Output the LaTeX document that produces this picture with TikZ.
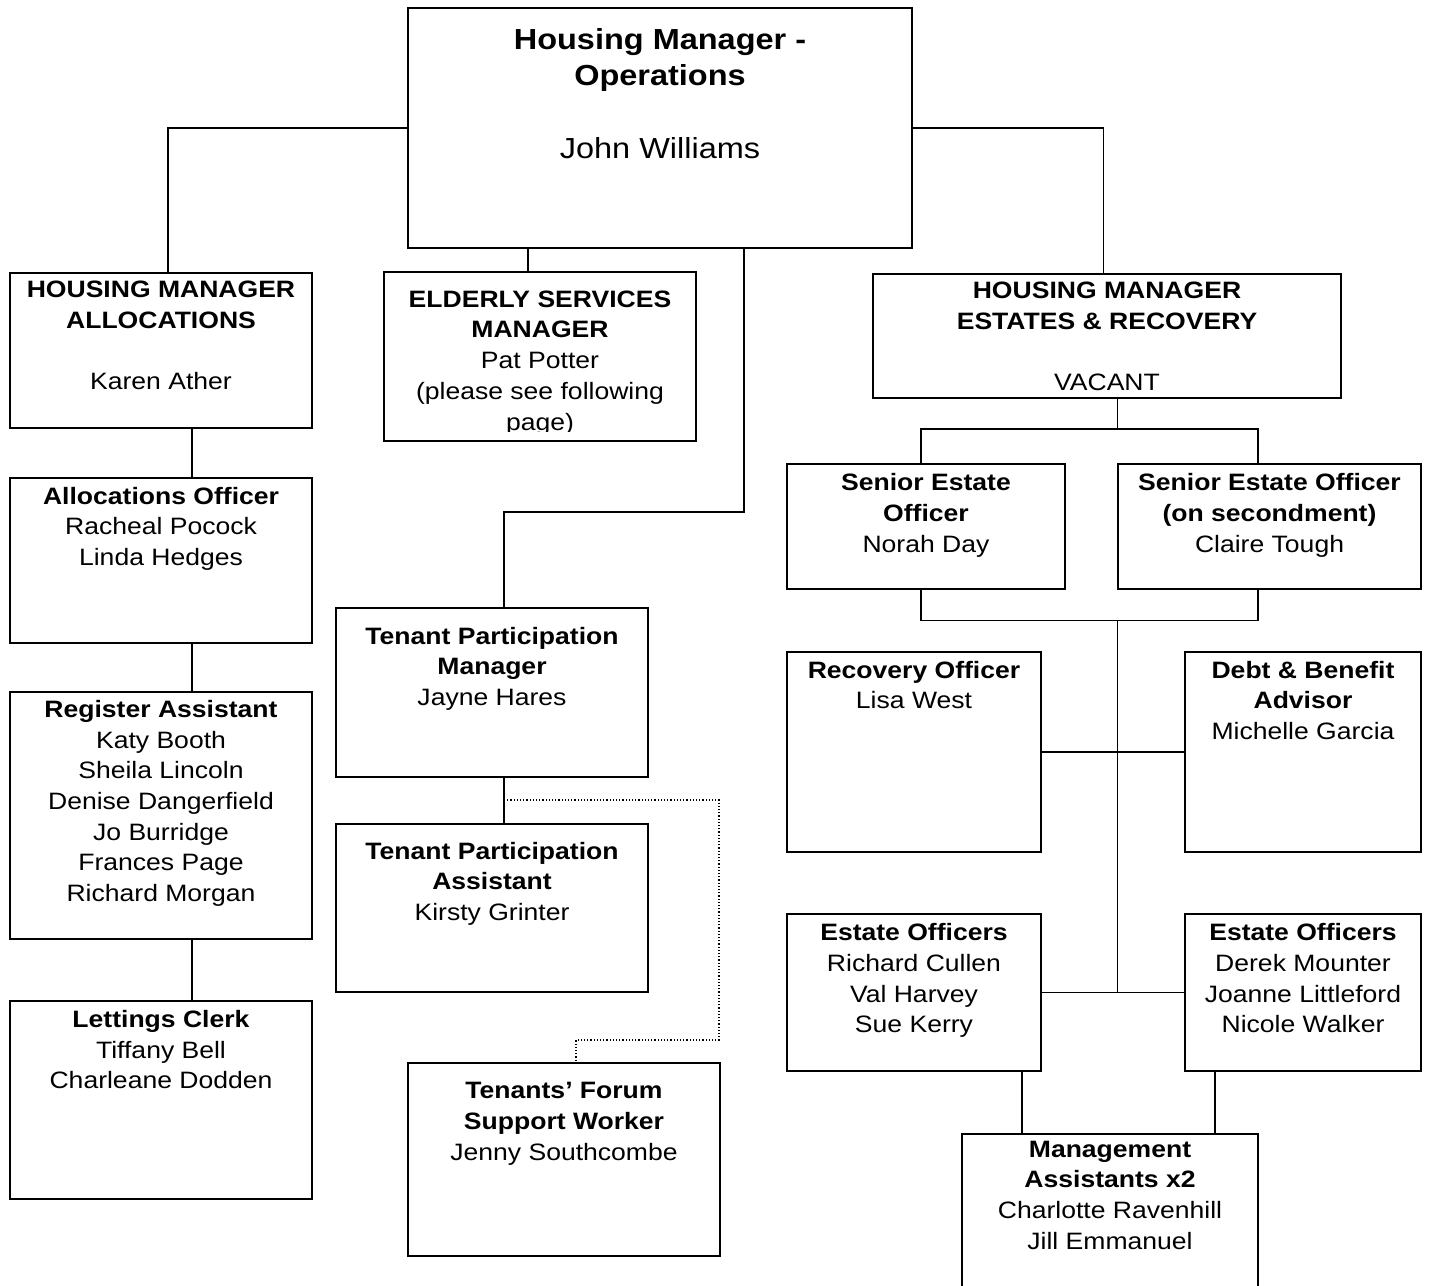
\documentclass[tikz,border=0pt]{standalone}
\usepackage{fontspec}
\setmainfont{Liberation Sans}[FakeStretch=1.12]
\begin{document}
\begin{tikzpicture}[x=1pt,y=-1pt,
  box/.style={draw=black, line width=2.2pt, anchor=north west, inner sep=0pt, outer sep=0pt},
  thinbox/.style={box, line width=1.5pt},
  topbox/.style={box, line width=2.6pt},
  txt/.style={anchor=north, align=center, inner sep=0pt, font=\fontsize{23.7}{30.7}\selectfont},
  toptxt/.style={txt, font=\fontsize{29}{36.3}\selectfont},
  conn/.style={line width=1.8pt},
  dots/.style={line width=1.2pt, dotted}]

\useasboundingbox (0,0) rectangle (1429,1285);

% boxes
\node[topbox, minimum width=504pt, minimum height=240pt] (top) at (408,8) {};
\node[box, minimum width=302pt, minimum height=155pt] (hma) at (10,273) {};
\node[thinbox, minimum width=312pt, minimum height=169pt] (esm) at (384,272) {};
\node[box, minimum width=468pt, minimum height=124pt] (hme) at (873,274) {};
\node[box, minimum width=302pt, minimum height=165pt] (ao) at (10,478) {};
\node[box, minimum width=302pt, minimum height=247pt] (ra) at (10,692) {};
\node[box, minimum width=302pt, minimum height=198pt] (lc) at (10,1001) {};
\node[thinbox, minimum width=312pt, minimum height=169pt] (tpm) at (336,608) {};
\node[thinbox, minimum width=312pt, minimum height=168pt] (tpa) at (336,824) {};
\node[thinbox, minimum width=312pt, minimum height=193pt] (tfsw) at (408,1063) {};
\node[box, minimum width=278pt, minimum height=125pt] (seo1) at (787,464) {};
\node[box, minimum width=303pt, minimum height=125pt] (seo2) at (1118,464) {};
\node[box, minimum width=254pt, minimum height=200pt] (rec) at (787,652) {};
\node[box, minimum width=236pt, minimum height=200pt] (dba) at (1185,652) {};
\node[box, minimum width=254pt, minimum height=157pt] (eo1) at (787,914) {};
\node[box, minimum width=236pt, minimum height=157pt] (eo2) at (1185,914) {};
\node[box, minimum width=296pt, minimum height=170pt] (ma) at (962,1134) {};

% texts
\node[toptxt] (topT) at ([yshift=-20pt]top.north) {\textbf{Housing Manager -}\\\textbf{Operations}\\[36.3pt]John Williams};
\node[txt] (hmaT) at ([yshift=-8pt]hma.north) {\textbf{HOUSING MANAGER}\\\textbf{ALLOCATIONS}\\[30.7pt]Karen Ather};
\begin{scope}
\clip (esm.north west) rectangle ([yshift=10pt]esm.south east);
\node[txt] (esmT) at ([yshift=-18.5pt]esm.north) {\textbf{ELDERLY SERVICES}\\\textbf{MANAGER}\\Pat Potter\\(please see following\\page)};
\end{scope}
\node[txt] (hmeT) at ([yshift=-8pt]hme.north) {\textbf{HOUSING MANAGER}\\\textbf{ESTATES \& RECOVERY}\\[30.7pt]VACANT};
\node[txt] (aoT) at ([yshift=-8.7pt]ao.north) {\textbf{Allocations Officer}\\Racheal Pocock\\Linda Hedges};
\node[txt] (raT) at ([yshift=-8pt]ra.north) {\textbf{Register Assistant}\\Katy Booth\\Sheila Lincoln\\Denise Dangerfield\\Jo Burridge\\Frances Page\\Richard Morgan};
\node[txt] (lcT) at ([yshift=-9pt]lc.north) {\textbf{Lettings Clerk}\\Tiffany Bell\\Charleane Dodden};
\node[txt] (tpmT) at ([yshift=-18.7pt]tpm.north) {\textbf{Tenant Participation}\\\textbf{Manager}\\Jayne Hares};
\node[txt] (tpaT) at ([yshift=-17.7pt]tpa.north) {\textbf{Tenant Participation}\\\textbf{Assistant}\\Kirsty Grinter};
\node[txt] (tfswT) at ([yshift=-19.3pt]tfsw.north) {\textbf{Tenants’ Forum}\\\textbf{Support Worker}\\Jenny Southcombe};
\node[txt] (seo1T) at ([yshift=-9.3pt]seo1.north) {\textbf{Senior Estate}\\\textbf{Officer}\\Norah Day};
\node[txt] (seo2T) at ([yshift=-9.3pt]seo2.north) {\textbf{Senior Estate Officer}\\\textbf{(on secondment)}\\Claire Tough};
\node[txt] (recT) at ([yshift=-8.7pt]rec.north) {\textbf{Recovery Officer}\\Lisa West};
\node[txt] (dbaT) at ([yshift=-8.7pt]dba.north) {\textbf{Debt \& Benefit}\\\textbf{Advisor}\\Michelle Garcia};
\node[txt] (eo1T) at ([yshift=-9.3pt]eo1.north) {\textbf{Estate Officers}\\Richard Cullen\\Val Harvey\\Sue Kerry};
\node[txt] (eo2T) at ([yshift=-9.3pt]eo2.north) {\textbf{Estate Officers}\\Derek Mounter\\Joanne Littleford\\Nicole Walker};
\node[txt] (maT) at ([yshift=-6.7pt]ma.north) {\textbf{Management}\\\textbf{Assistants x2}\\Charlotte Ravenhill\\Jill Emmanuel};

% connectors
\draw[conn] (top.west) -| ([xshift=7pt]hma.north);
\draw[conn] (top.east) -| ([xshift=-3.5pt]hme.north);
\draw[conn] ([xshift=-132pt]top.south) -- ([xshift=-12pt]esm.north);
\draw[conn] ([xshift=84pt]top.south) |- ([xshift=12pt,yshift=96pt]tpm.north) -- ([xshift=12pt]tpm.north);
\draw[conn] ([xshift=31pt]hma.south) -- ([xshift=31pt]ao.north);
\draw[conn] ([xshift=31pt]ao.south) -- ([xshift=31pt]ra.north);
\draw[conn] ([xshift=31pt]ra.south) -- ([xshift=31pt]lc.north);
\draw[conn] ([xshift=12pt]tpm.south) -- ([xshift=12pt]tpa.north);
\coordinate (d1) at (719,800);
\coordinate (d2) at (719,1040);
\draw[dots] ([xshift=12pt,yshift=24pt]tpa.north) -- (d1) -- (d2) -| ([xshift=12pt]tfsw.north);

\coordinate (j1) at (1117.5,429);
\draw[conn] ([xshift=10.5pt]hme.south) -- (j1);
\draw[conn] ([xshift=-5pt]seo1.north) |- ([xshift=-11.5pt,yshift=35pt]seo2.north) -- ([xshift=-11.5pt]seo2.north);
\draw[conn] ([xshift=-5pt]seo1.south) |- ([xshift=-11.5pt,yshift=-31.5pt]seo2.south) -- ([xshift=-11.5pt]seo2.south);
\coordinate (j2) at (1117.5,620.5);
\coordinate (j3) at (1117.5,993);
\draw[conn] (j2) -- (j3);
\draw[conn] (rec.east) -- (dba.west);
\draw[conn] (eo1.east) -- (eo2.west);
\draw[conn] ([xshift=107.7pt]eo1.south) -- ([xshift=107.7pt]eo1.south |- ma.north);
\draw[conn] ([xshift=-88pt]eo2.south) -- ([xshift=-88pt]eo2.south |- ma.north);
\end{tikzpicture}
\end{document}
